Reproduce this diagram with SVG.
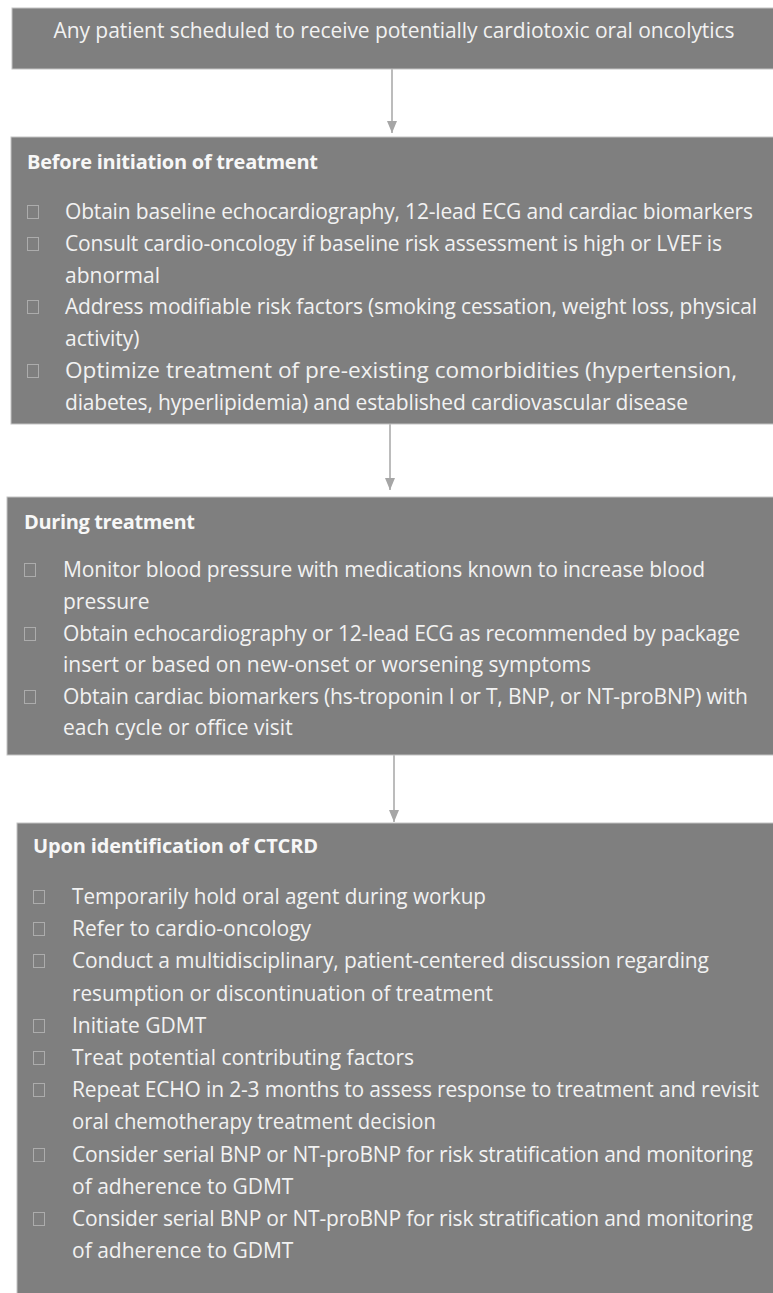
<svg xmlns="http://www.w3.org/2000/svg" width="773" height="1293" viewBox="0 0 773 1293">
<style>
.box{fill:#7f7f7f;stroke:#c4c4c4;stroke-width:1}
.t{font-family:"Open Sans","Noto Sans",sans-serif;font-size:21px;fill:#f2f2f2}
.h{font-family:"Open Sans","Noto Sans",sans-serif;font-size:20px;font-weight:bold;fill:#f7f7f7}
.b{fill:none;stroke:#acacac;stroke-width:1}
.c{stroke:#a6a6a6;stroke-width:1.5;fill:none;marker-end:url(#ah)}
</style>
<defs>
<marker id="ah" viewBox="0 0 12 10" refX="12" refY="5" markerWidth="12" markerHeight="10" orient="auto" markerUnits="userSpaceOnUse">
<path d="M0,0 L12,5 L0,10 z" fill="#a6a6a6"/>
</marker>
</defs>
<rect width="773" height="1293" fill="#ffffff"/>

<g id="connectors">
<line class="c" x1="392" y1="69" x2="392" y2="133"/>
<line class="c" x1="390" y1="424" x2="390" y2="490"/>
<line class="c" x1="394" y1="755" x2="394" y2="822"/>
</g>

<g id="start">
<rect class="box" x="12" y="8" width="770" height="61"/>
<text class="t" x="394" y="38" text-anchor="middle" textLength="681">Any patient scheduled to receive potentially cardiotoxic oral oncolytics</text>
</g>

<g id="before">
<rect class="box" x="11" y="137" width="771" height="287"/>
<text class="h" x="27" y="169" textLength="291">Before initiation of treatment</text>
<rect class="b" x="27.5" y="205.5" width="11" height="13"/>
<rect class="b" x="27.5" y="237.5" width="11" height="13"/>
<rect class="b" x="27.5" y="300.5" width="11" height="13"/>
<rect class="b" x="27.5" y="364.5" width="11" height="13"/>
<text class="t" x="65" y="219" textLength="688">Obtain baseline echocardiography, 12-lead ECG and cardiac biomarkers</text>
<text class="t" x="65" y="251" textLength="657">Consult cardio-oncology if baseline risk assessment is high or LVEF is</text>
<text class="t" x="65" y="283">abnormal</text>
<text class="t" x="65" y="314" textLength="692">Address modifiable risk factors (smoking cessation, weight loss, physical</text>
<text class="t" x="65" y="346">activity)</text>
<text class="t" x="65" y="378" textLength="672" lengthAdjust="spacingAndGlyphs">Optimize treatment of pre-existing comorbidities (hypertension,</text>
<text class="t" x="65" y="410" textLength="623">diabetes, hyperlipidemia) and established cardiovascular disease</text>
</g>

<g id="during">
<rect class="box" x="7" y="497" width="775" height="258"/>
<text class="h" x="24" y="529" textLength="171">During treatment</text>
<rect class="b" x="24.5" y="563.5" width="11" height="13"/>
<rect class="b" x="24.5" y="627.5" width="11" height="13"/>
<rect class="b" x="24.5" y="690.5" width="11" height="13"/>
<text class="t" x="63" y="577" textLength="642">Monitor blood pressure with medications known to increase blood</text>
<text class="t" x="63" y="609">pressure</text>
<text class="t" x="63" y="641" textLength="677">Obtain echocardiography or 12-lead ECG as recommended by package</text>
<text class="t" x="63" y="672">insert or based on new-onset or worsening symptoms</text>
<text class="t" x="63" y="704" textLength="685">Obtain cardiac biomarkers (hs-troponin I or T, BNP, or NT-proBNP) with</text>
<text class="t" x="63" y="735">each cycle or office visit</text>
</g>

<g id="upon">
<rect class="box" x="17" y="823" width="765" height="480"/>
<text class="h" x="33" y="853" textLength="285">Upon identification of CTCRD</text>
<rect class="b" x="33.5" y="890.5" width="11" height="13"/>
<rect class="b" x="33.5" y="922.5" width="11" height="13"/>
<rect class="b" x="33.5" y="954.5" width="11" height="13"/>
<rect class="b" x="33.5" y="1019.5" width="11" height="13"/>
<rect class="b" x="33.5" y="1051.5" width="11" height="13"/>
<rect class="b" x="33.5" y="1083.5" width="11" height="13"/>
<rect class="b" x="33.5" y="1148.5" width="11" height="13"/>
<rect class="b" x="33.5" y="1212.5" width="11" height="13"/>
<text class="t" x="72" y="904" textLength="414" lengthAdjust="spacingAndGlyphs">Temporarily hold oral agent during workup</text>
<text class="t" x="72" y="936">Refer to cardio-oncology</text>
<text class="t" x="72" y="968" textLength="637">Conduct a multidisciplinary, patient-centered discussion regarding</text>
<text class="t" x="72" y="1001" textLength="421" lengthAdjust="spacingAndGlyphs">resumption or discontinuation of treatment</text>
<text class="t" x="72" y="1033">Initiate GDMT</text>
<text class="t" x="72" y="1065">Treat potential contributing factors</text>
<text class="t" x="72" y="1097" textLength="687">Repeat ECHO in 2-3 months to assess response to treatment and revisit</text>
<text class="t" x="72" y="1129" textLength="364" lengthAdjust="spacingAndGlyphs">oral chemotherapy treatment decision</text>
<text class="t" x="72" y="1162" textLength="681">Consider serial BNP or NT-proBNP for risk stratification and monitoring</text>
<text class="t" x="72" y="1194">of adherence to GDMT</text>
<text class="t" x="72" y="1226" textLength="681">Consider serial BNP or NT-proBNP for risk stratification and monitoring</text>
<text class="t" x="72" y="1258">of adherence to GDMT</text>
</g>
</svg>
